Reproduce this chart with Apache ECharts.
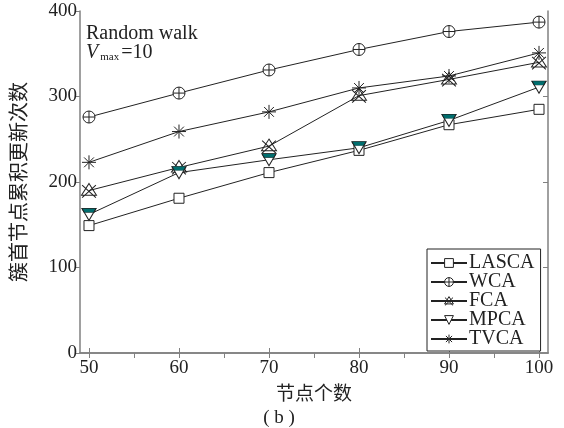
<!DOCTYPE html>
<html lang="zh">
<head>
<meta charset="UTF-8">
<title>簇首节点累积更新次数</title>
<script src="https://cdn.jsdelivr.net/npm/echarts@6/dist/echarts.min.js"></script>
<style>
    html, body { margin: 0; padding: 0; background: #fff; }
    #chart { width: 564px; height: 428px; }
</style>
</head>
<body>
<div id="chart"></div>
<script>
    // data
    var nodeCounts = [50, 60, 70, 80, 90, 100];
    var lascaValues = [149, 181, 211, 237, 267, 285];
    var wcaValues = [276, 304, 331, 355, 376, 387];
    var fcaValues = [190, 217, 242, 301, 320, 340];
    var mpcaValues = [162, 211, 226, 240, 272, 311];
    var tvcaValues = [223, 259, 282, 310, 324, 351];
    var xTicks = [50, 60, 70, 80, 90, 100];
    var xMinorTicks = [50, 55, 60, 65, 70, 75, 80, 85, 90, 95, 100];
    var yTicks = [100, 200, 300];

    var serif = '"Liberation Serif", "DejaVu Serif", serif';
    var cjk = '"Noto Sans CJK SC", sans-serif';
    var axisGray = '#808080';
    var ink = '#222';
    var clear = 'rgba(255,255,255,0)';

    function pairs(vals) {
        return nodeCounts.map(function (x, i) { return [x, vals[i]]; });
    }

    var symCircPlus = 'path://M0,-10 A10,10 0 1,1 0,10 A10,10 0 1,1 0,-10 Z M-10,0 L10,0 M0,-10 L0,10';
    var symTriX = 'path://M0,-10 L8.7,5 L-8.7,5 Z M-8,-8 L8,8 M8,-8 L-8,8';
    var symTriDown = 'path://M-10,-9 L10,-9 L0,9 Z';
    var symBand = 'path://M-10,0 L10,0 L6.7,6 L-6.7,6 Z';
    var symStar = 'path://M0,-10 L0,10 M-10,0 L10,0 M-7,-7 L7,7 M7,-7 L-7,7';

    function lineSeries(name, vals, symbol, size, fill) {
        return {
            name: name,
            type: 'line',
            data: pairs(vals),
            symbol: symbol,
            symbolSize: size,
            showAllSymbol: true,
            lineStyle: { color: ink, width: 1 },
            itemStyle: { color: fill || '#fff', borderColor: ink, borderWidth: 1 },
            emphasis: { disabled: true },
            z: 2
        };
    }

    var chart = echarts.init(document.getElementById('chart'));
    chart.setOption({
        animation: false,
        backgroundColor: '#fff',
        grid: { left: 74, right: 16, top: 11, bottom: 75 },
        xAxis: [{
            type: 'value',
            min: 49,
            max: 101,
            position: 'bottom',
            name: '节点个数',
            nameLocation: 'middle',
            nameGap: 29,
            nameTextStyle: { fontFamily: cjk, fontSize: 19, color: ink },
            axisLine: { lineStyle: { color: axisGray, width: 1.5 } },
            axisTick: { inside: true, length: 5, customValues: xTicks, lineStyle: { color: axisGray } },
            axisLabel: { customValues: xTicks, fontFamily: serif, fontSize: 19, color: ink, margin: 6 },
            splitLine: { show: false }
        }, {
            type: 'value',
            min: 49,
            max: 101,
            position: 'top',
            axisLine: { lineStyle: { color: axisGray, width: 1.5 } },
            axisTick: { inside: true, length: 5, customValues: xMinorTicks, lineStyle: { color: axisGray } },
            axisLabel: { show: false },
            splitLine: { show: false }
        }],
        yAxis: [{
            type: 'value',
            min: 0,
            max: 400,
            interval: 100,
            position: 'left',
            name: '簇首节点累积更新次数',
            nameLocation: 'middle',
            nameGap: 52,
            nameRotate: 90,
            nameTextStyle: { fontFamily: cjk, fontSize: 20, color: ink },
            axisLine: { show: true, lineStyle: { color: axisGray, width: 1.5 } },
            axisTick: { show: true, length: 5, lineStyle: { color: axisGray } },
            axisLabel: { fontFamily: serif, fontSize: 19, color: ink, margin: 3 },
            splitLine: { show: false }
        }, {
            type: 'value',
            min: 0,
            max: 400,
            position: 'right',
            axisLine: { show: true, lineStyle: { color: axisGray, width: 1.5 } },
            axisTick: { show: true, inside: true, length: 5, customValues: yTicks, lineStyle: { color: axisGray } },
            axisLabel: { show: false },
            splitLine: { show: false }
        }],
        legend: {
            data: ['LASCA', 'WCA', 'FCA', 'MPCA', 'TVCA'],
            orient: 'vertical',
            left: 427,
            top: 249,
            padding: [4, 6, 2, 3],
            itemGap: -1,
            itemWidth: 36,
            itemHeight: 11,
            borderColor: ink,
            borderWidth: 1,
            backgroundColor: '#fff',
            itemStyle: { borderWidth: 1 },
            textStyle: { fontFamily: serif, fontSize: 20, color: ink, lineHeight: 18, padding: [0, 0, 0, -3] }
        },
        series: [
            lineSeries('LASCA', lascaValues, 'rect', 10),
            lineSeries('WCA', wcaValues, symCircPlus, 12),
            lineSeries('FCA', fcaValues, symTriX, [15, 14], clear),
            lineSeries('MPCA', mpcaValues, symTriDown, [14, 12]),
            {
                name: 'MPCA-fill',
                type: 'line',
                data: pairs(mpcaValues),
                symbol: symBand,
                symbolSize: [14, 4],
                symbolOffset: [0, -4],
                showAllSymbol: true,
                lineStyle: { opacity: 0 },
                itemStyle: { color: '#006e6e', borderColor: ink, borderWidth: 0.6 },
                silent: true,
                z: 3
            },
            lineSeries('TVCA', tvcaValues, symStar, 14, clear)
        ],
        graphic: [{
            type: 'text',
            left: 86,
            top: 24,
            style: { text: 'Random walk', fontFamily: serif, fontSize: 20, fill: ink }
        }, {
            type: 'text',
            left: 86,
            top: 43,
            style: {
                text: '{v|V}{s|max}{n|=10}',
                rich: {
                    v: { fontFamily: serif, fontStyle: 'italic', fontSize: 20, fill: ink, verticalAlign: 'bottom' },
                    s: { fontFamily: serif, fontSize: 11, fill: ink, verticalAlign: 'bottom', padding: [0, 2, 0, 2] },
                    n: { fontFamily: serif, fontSize: 20, fill: ink, verticalAlign: 'bottom' }
                }
            }
        }, {
            type: 'text',
            x: 279,
            y: 418,
            style: { text: '( b )', fontFamily: serif, fontSize: 19, fill: ink, align: 'center', verticalAlign: 'middle' }
        }]
    });
</script>
</body>
</html>
